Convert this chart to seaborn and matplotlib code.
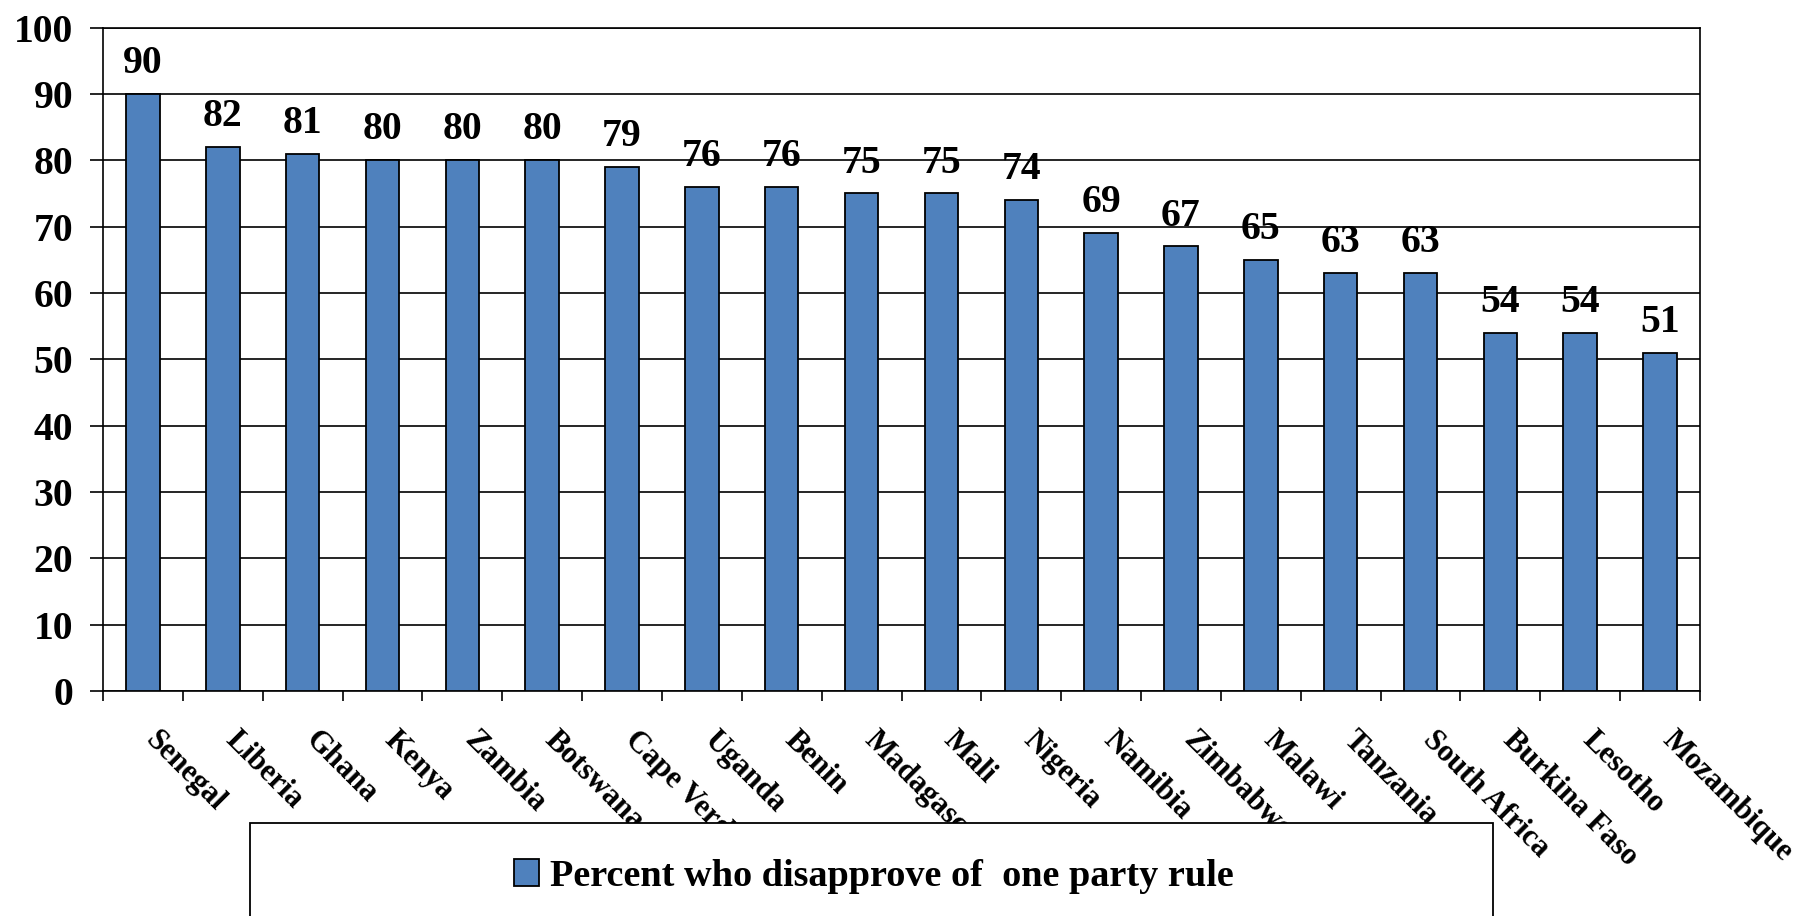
import matplotlib
matplotlib.use("Agg")
import matplotlib.pyplot as plt
import matplotlib.transforms as mtransforms
from matplotlib.patches import Rectangle
import seaborn as sns
import pandas as pd

countries = ["Senegal", "Liberia", "Ghana", "Kenya", "Zambia", "Botswana",
             "Cape Verde", "Uganda", "Benin", "Madagascar", "Mali", "Nigeria",
             "Namibia", "Zimbabwe", "Malawi", "Tanzania", "South Africa",
             "Burkina Faso", "Lesotho", "Mozambique"]
disapprove = [90, 82, 81, 80, 80, 80, 79, 76, 76, 75, 75, 74,
              69, 67, 65, 63, 63, 54, 54, 51]
y_ticks = [0, 10, 20, 30, 40, 50, 60, 70, 80, 90, 100]
series_name = "Percent who disapprove of  one party rule"

sns.set_style("ticks")
plt.rcParams["font.family"] = ["Liberation Serif", "DejaVu Serif"]
plt.rcParams["font.weight"] = "bold"
plt.rcParams["text.color"] = "black"
plt.rcParams["xtick.color"] = "black"
plt.rcParams["ytick.color"] = "black"
plt.rcParams["xtick.labelcolor"] = "black"
plt.rcParams["ytick.labelcolor"] = "black"

W, H, DPI = 1802, 916, 100
fig = plt.figure(figsize=(W / DPI, H / DPI), dpi=DPI)
ax = fig.add_axes([103 / W, 1 - 691 / H, (1700 - 103) / W, (691 - 27.5) / H])

df = pd.DataFrame({"country": countries, "value": disapprove})
sns.barplot(data=df, x="country", y="value", color="#4F81BD", saturation=1,
            edgecolor="black", linewidth=1.3, width=0.42, ax=ax, zorder=3,
            label=series_name)

ax.set_xlim(-0.5, len(countries) - 0.5)
ax.set_ylim(0, 100)
ax.set_xlabel("")
ax.set_ylabel("")

# horizontal grid at every 10
ax.set_yticks(y_ticks)
ax.set_yticklabels([str(v) for v in y_ticks], fontsize=28.5, fontweight="bold",
                   color="black")
ax.yaxis.grid(True, color="black", linewidth=1.2)
ax.set_axisbelow(True)
ax.tick_params(axis="y", length=9.5, width=1.2, pad=12, color="black")

for s in ax.spines.values():
    s.set_color("black")
    s.set_linewidth(1.2)

# category labels at bar centres, tick marks at category boundaries
ax.set_xticks(range(len(countries)))
ax.set_xticklabels(countries, fontsize=22, fontweight="bold", color="black",
                   rotation=-45, ha="left", va="top", rotation_mode="anchor")
ax.tick_params(axis="x", which="major", length=0, pad=25)
ax.set_xticks([i - 0.5 for i in range(len(countries) + 1)], minor=True)
ax.tick_params(axis="x", which="minor", length=7.5, width=1.2, color="black")
shift = mtransforms.ScaledTranslation(17 / DPI, 0, fig.dpi_scale_trans)
for lab in ax.get_xticklabels():
    lab.set_transform(lab.get_transform() + shift)

# value labels above the bars
cont = ax.containers[0]
ax.bar_label(cont, labels=[str(v) for v in disapprove], padding=8.5,
             fontsize=28.5, fontweight="bold", color="black", zorder=4)

# legend box overlapping the lower part of the category labels
box = Rectangle((250 / W, -0.05), (1493 - 250) / W, (1 - 822.5 / H) + 0.05,
                transform=fig.transFigure, facecolor="white",
                edgecolor="black", linewidth=1.3, zorder=5)
fig.add_artist(box)

handles, labels = ax.get_legend_handles_labels()
leg = fig.legend(handles, labels, loc="center left",
                 bbox_to_anchor=(514 / W, 1 - 876 / H),
                 frameon=False, prop={"family": "Liberation Serif",
                                      "weight": "bold", "size": 27.5},
                 handlelength=0.65, handleheight=0.7, handletextpad=0.3,
                 borderaxespad=0, borderpad=0)
for t in leg.get_texts():
    t.set_color("black")
leg.set_zorder(6)
if ax.get_legend() is not None:
    ax.get_legend().remove()

fig.savefig("out.png", dpi=DPI, facecolor="white")
